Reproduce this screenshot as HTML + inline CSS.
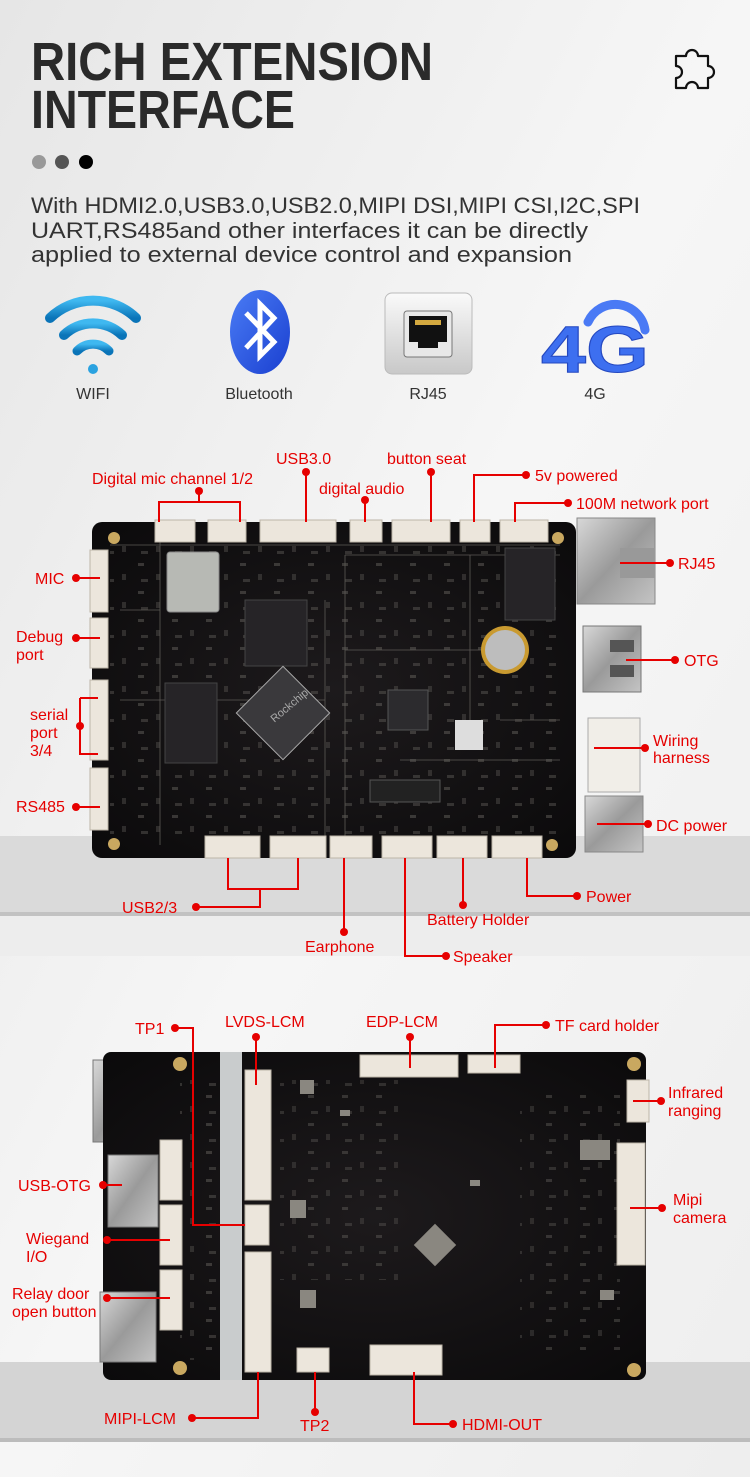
<!DOCTYPE html>
<html><head><meta charset="utf-8"><style>
html,body{margin:0;padding:0;background:#f0f0f0}
svg{display:block}
text{font-family:"Liberation Sans",sans-serif}
.r{fill:#e60000;font-size:16px}
.l{stroke:#e60000;stroke-width:2;fill:none}
.d{fill:#e60000}
.c{fill:#ece6dc;stroke:#bdb5a8;stroke-width:1}
</style></head><body>
<svg width="750" height="1477" viewBox="0 0 750 1477" xmlns="http://www.w3.org/2000/svg">
<defs>
<linearGradient id="bg" x1="0" y1="0" x2="1" y2="1"><stop offset="0" stop-color="#e6e6e6"/><stop offset=".5" stop-color="#f6f6f6"/><stop offset="1" stop-color="#eeeeee"/></linearGradient>
<linearGradient id="wifi" x1="0" y1="0" x2="0" y2="1"><stop offset="0" stop-color="#3fb8f0"/><stop offset="1" stop-color="#0a74b8"/></linearGradient>
<linearGradient id="bt" x1="0" y1="0" x2="1" y2="1"><stop offset="0" stop-color="#4a7cf5"/><stop offset="1" stop-color="#1a3fd0"/></linearGradient>
<linearGradient id="rj" x1="0" y1="0" x2="0" y2="1"><stop offset="0" stop-color="#fafafa"/><stop offset="1" stop-color="#c8c8c8"/></linearGradient>
<linearGradient id="met" x1="0" y1="0" x2="1" y2="1"><stop offset="0" stop-color="#d8d8d8"/><stop offset=".5" stop-color="#9a9a9a"/><stop offset="1" stop-color="#c4c4c4"/></linearGradient>
<radialGradient id="pcb" cx=".5" cy=".5" r=".7"><stop offset="0" stop-color="#1d1a1c"/><stop offset="1" stop-color="#0b0a0b"/></radialGradient>
<pattern id="comp" width="34" height="28" patternUnits="userSpaceOnUse">
<rect x="2" y="3" width="6" height="3" fill="#77746e"/><rect x="20" y="14" width="4" height="6" fill="#5f5c58"/><rect x="5" y="19" width="7" height="3" fill="#6a6762"/>
</pattern>
</defs>
<rect width="750" height="1477" fill="url(#bg)"/>
<rect x="0" y="836" width="750" height="76" fill="#dadada"/>
<rect x="0" y="912" width="750" height="4" fill="#c2c2c2"/>
<rect x="0" y="916" width="750" height="40" fill="#ededed"/>
<rect x="0" y="1362" width="750" height="76" fill="#d4d4d4"/>
<rect x="0" y="1438" width="750" height="4" fill="#bcbcbc"/>

<text x="31" y="80" font-size="54" font-weight="bold" fill="#2a2a2a" textLength="402" lengthAdjust="spacingAndGlyphs">RICH EXTENSION</text>
<text x="31" y="128" font-size="54" font-weight="bold" fill="#2a2a2a" textLength="264" lengthAdjust="spacingAndGlyphs">INTERFACE</text>
<circle cx="39" cy="162" r="7" fill="#999"/><circle cx="62" cy="162" r="7" fill="#555"/><circle cx="86" cy="162" r="7" fill="#000"/>
<text x="31" y="213" font-size="22" fill="#333" textLength="609" lengthAdjust="spacingAndGlyphs">With HDMI2.0,USB3.0,USB2.0,MIPI DSI,MIPI CSI,I2C,SPI</text>
<text x="31" y="238" font-size="22" fill="#333" textLength="557" lengthAdjust="spacingAndGlyphs">UART,RS485and other interfaces it can be directly</text>
<text x="31" y="262" font-size="22" fill="#333" textLength="541" lengthAdjust="spacingAndGlyphs">applied to external device control and expansion</text>
<path d="M676 56 h10 a6 6 0 1 1 12 0 h10 v10 a6 6 0 1 1 0 12 v10 h-10 a6 6 0 1 0 -12 0 h-10 v-10 a6 6 0 1 0 0 -12 z" fill="none" stroke="#111" stroke-width="2.2" stroke-linejoin="round"/>

<g fill="none" stroke="url(#wifi)" stroke-linecap="round">
<path d="M50 318 A62 62 0 0 1 136 318" stroke-width="10"/>
<path d="M64 335 A42 42 0 0 1 122 335" stroke-width="10"/>
<path d="M77 351 A22 22 0 0 1 109 351" stroke-width="9"/>
</g>
<circle cx="93" cy="369" r="5" fill="#2aa2e0"/>
<text x="93" y="399" font-size="16" fill="#333" text-anchor="middle">WIFI</text>
<ellipse cx="260" cy="332" rx="30" ry="42" fill="url(#bt)"/>
<path d="M246 313 L274 342 L260 356 L260 304 L274 318 L246 348" fill="none" stroke="#fff" stroke-width="5"/>
<text x="259" y="399" font-size="16" fill="#333" text-anchor="middle">Bluetooth</text>
<rect x="385" y="293" width="87" height="81" rx="7" fill="url(#rj)" stroke="#bbb"/>
<rect x="404" y="311" width="48" height="46" rx="3" fill="#e8e8e8" stroke="#777"/>
<path d="M409 316 h38 v26 h-9 v6 h-20 v-6 h-9 z" fill="#111"/>
<rect x="415" y="320" width="26" height="5" fill="#d4a940"/>
<text x="428" y="399" font-size="16" fill="#333" text-anchor="middle">RJ45</text>
<text x="541" y="372" font-size="66" font-weight="bold" fill="#3d6ff0" stroke="#2448c0" stroke-width="1" textLength="108" lengthAdjust="spacingAndGlyphs">4G</text>
<path d="M588 322 A30 30 0 0 1 645 330" fill="none" stroke="#4a7af5" stroke-width="9" stroke-linecap="round"/>
<text x="595" y="399" font-size="16" fill="#333" text-anchor="middle">4G</text>

<!-- TOP BOARD -->
<rect x="577" y="518" width="78" height="86" fill="url(#met)" stroke="#888"/>
<rect x="620" y="548" width="35" height="30" fill="#999"/>
<rect x="583" y="626" width="58" height="66" fill="url(#met)" stroke="#777"/>
<rect x="610" y="640" width="24" height="12" fill="#555"/><rect x="610" y="665" width="24" height="12" fill="#555"/>
<rect x="588" y="718" width="52" height="74" fill="#f1eee8" stroke="#aaa"/>
<rect x="585" y="796" width="58" height="56" fill="url(#met)" stroke="#888"/>
<rect x="92" y="522" width="484" height="336" rx="10" fill="url(#pcb)"/>
<rect x="110" y="545" width="450" height="290" fill="url(#comp)" opacity=".4"/>
<g stroke="#5c5a55" stroke-width="0.8" fill="none">
<path d="M110 545 H560 M160 540 V845 M325 600 V840 M345 555 H560 M345 555 V840 M120 700 H325 M345 650 H500 M470 555 V720 M500 720 H560 M120 610 H160 M400 760 H560"/>
</g>
<g class="c">
<rect x="155" y="520" width="40" height="22"/><rect x="208" y="520" width="38" height="22"/>
<rect x="260" y="520" width="76" height="22"/><rect x="350" y="520" width="32" height="22"/>
<rect x="392" y="520" width="58" height="22"/><rect x="460" y="520" width="30" height="22"/>
<rect x="500" y="520" width="48" height="22"/>
<rect x="205" y="836" width="55" height="22"/><rect x="270" y="836" width="56" height="22"/>
<rect x="330" y="836" width="42" height="22"/><rect x="382" y="836" width="50" height="22"/>
<rect x="437" y="836" width="50" height="22"/><rect x="492" y="836" width="50" height="22"/>
<rect x="90" y="550" width="18" height="62"/><rect x="90" y="618" width="18" height="50"/>
<rect x="90" y="680" width="18" height="80"/><rect x="90" y="768" width="18" height="62"/>
</g>
<circle cx="114" cy="538" r="6" fill="#c9a860"/><circle cx="114" cy="844" r="6" fill="#c9a860"/><circle cx="558" cy="538" r="6" fill="#c9a860"/><circle cx="552" cy="845" r="6" fill="#c9a860"/>
<rect x="167" y="552" width="52" height="60" rx="3" fill="#b7b9b4" stroke="#888"/>
<rect x="245" y="600" width="62" height="66" fill="#262427" stroke="#444"/>
<rect x="165" y="683" width="52" height="80" fill="#262427" stroke="#444"/>
<rect x="250" y="680" width="66" height="66" fill="#3a393c" stroke="#aaa" transform="rotate(45 283 713)"/>
<text x="270" y="715" font-size="11" fill="#aaa" transform="rotate(-40 283 713)">Rockchip</text>
<rect x="505" y="548" width="50" height="72" fill="#262427" stroke="#444"/>
<circle cx="505" cy="650" r="24" fill="#c99a30"/><circle cx="505" cy="650" r="20" fill="#bdbdbd"/>
<rect x="388" y="690" width="40" height="40" fill="#2c2b2e" stroke="#555"/>
<rect x="455" y="720" width="28" height="30" fill="#ddd"/>
<rect x="370" y="780" width="70" height="22" fill="#222" stroke="#555"/>

<g class="l">
<path d="M199 491 V502 M159 522 V502 H240 V522"/>
<path d="M306 472 V522"/><path d="M365 500 V522"/><path d="M431 472 V522"/>
<path d="M526 475 H474 V522"/><path d="M568 503 H515 V522"/>
<path d="M670 563 H620"/><path d="M675 660 H626"/><path d="M645 748 H594"/><path d="M648 824 H597"/>
<path d="M76 578 H100"/><path d="M76 638 H100"/><path d="M80 698 H98 M80 698 V754 H98"/><path d="M76 807 H100"/>
<path d="M196 907 H260 V889 M228 858 V889 H298 V858"/>
<path d="M344 932 V858"/><path d="M446 956 H405 V858"/><path d="M463 905 V858"/><path d="M577 896 H527 V858"/>
</g>
<g class="d">
<circle cx="199" cy="491" r="4"/><circle cx="306" cy="472" r="4"/><circle cx="365" cy="500" r="4"/><circle cx="431" cy="472" r="4"/>
<circle cx="526" cy="475" r="4"/><circle cx="568" cy="503" r="4"/><circle cx="670" cy="563" r="4"/><circle cx="675" cy="660" r="4"/>
<circle cx="645" cy="748" r="4"/><circle cx="648" cy="824" r="4"/><circle cx="76" cy="578" r="4"/><circle cx="76" cy="638" r="4"/>
<circle cx="80" cy="726" r="4"/><circle cx="76" cy="807" r="4"/><circle cx="196" cy="907" r="4"/><circle cx="344" cy="932" r="4"/>
<circle cx="446" cy="956" r="4"/><circle cx="463" cy="905" r="4"/><circle cx="577" cy="896" r="4"/>
</g>
<g class="r">
<text x="92" y="484">Digital mic channel 1/2</text>
<text x="276" y="464">USB3.0</text>
<text x="319" y="494">digital audio</text>
<text x="387" y="464">button seat</text>
<text x="535" y="481">5v powered</text>
<text x="576" y="509">100M network port</text>
<text x="678" y="569">RJ45</text>
<text x="684" y="666">OTG</text>
<text x="653" y="746">Wiring</text><text x="653" y="763">harness</text>
<text x="656" y="831">DC power</text>
<text x="35" y="584">MIC</text>
<text x="16" y="642">Debug</text><text x="16" y="660">port</text>
<text x="30" y="720">serial</text><text x="30" y="738">port</text><text x="30" y="756">3/4</text>
<text x="16" y="812">RS485</text>
<text x="122" y="913">USB2/3</text>
<text x="305" y="952">Earphone</text>
<text x="453" y="962">Speaker</text>
<text x="427" y="925">Battery Holder</text>
<text x="586" y="902">Power</text>
</g>

<!-- BOTTOM BOARD -->
<rect x="93" y="1060" width="58" height="82" fill="url(#met)" stroke="#777"/>
<rect x="103" y="1052" width="543" height="328" rx="8" fill="url(#pcb)"/>
<rect x="280" y="1080" width="120" height="200" fill="url(#comp)" opacity=".35"/>
<rect x="520" y="1090" width="100" height="260" fill="url(#comp)" opacity=".35"/>
<rect x="180" y="1080" width="40" height="280" fill="url(#comp)" opacity=".4"/>
<rect x="220" y="1052" width="22" height="328" fill="#c9cccd"/>
<rect x="108" y="1155" width="50" height="72" fill="url(#met)" stroke="#777"/>
<rect x="100" y="1292" width="56" height="70" fill="url(#met)" stroke="#777"/>
<g class="c">
<rect x="160" y="1140" width="22" height="60"/><rect x="160" y="1205" width="22" height="60"/><rect x="160" y="1270" width="22" height="60"/>
<rect x="245" y="1070" width="26" height="130"/><rect x="245" y="1205" width="24" height="40"/><rect x="245" y="1252" width="26" height="120"/>
<rect x="360" y="1055" width="98" height="22"/><rect x="468" y="1055" width="52" height="18"/>
<rect x="627" y="1080" width="22" height="42"/><rect x="617" y="1143" width="28" height="122"/>
<rect x="370" y="1345" width="72" height="30"/><rect x="297" y="1348" width="32" height="24"/>
</g>
<circle cx="180" cy="1064" r="7" fill="#c9a860"/><circle cx="634" cy="1064" r="7" fill="#c9a860"/>
<circle cx="180" cy="1368" r="7" fill="#c9a860"/><circle cx="634" cy="1370" r="7" fill="#c9a860"/>
<g fill="#8a8780">
<rect x="300" y="1080" width="14" height="14"/><rect x="340" y="1110" width="10" height="6"/><rect x="290" y="1200" width="16" height="18"/>
<rect x="420" y="1230" width="30" height="30" transform="rotate(45 435 1245)"/>
<rect x="580" y="1140" width="30" height="20"/><rect x="300" y="1290" width="16" height="18"/>
<rect x="470" y="1180" width="10" height="6"/><rect x="600" y="1290" width="14" height="10"/>
</g>

<g class="l">
<path d="M175 1028 H193 V1225 H245"/><path d="M256 1037 V1085"/><path d="M410 1037 V1068"/><path d="M546 1025 H495 V1068"/>
<path d="M661 1101 H633"/><path d="M662 1208 H630"/><path d="M103 1185 H122"/><path d="M107 1240 H170"/><path d="M107 1298 H170"/>
<path d="M192 1418 H258 V1372"/><path d="M315 1412 V1372"/><path d="M453 1424 H414 V1372"/>
</g>
<g class="d">
<circle cx="175" cy="1028" r="4"/><circle cx="256" cy="1037" r="4"/><circle cx="410" cy="1037" r="4"/><circle cx="546" cy="1025" r="4"/>
<circle cx="661" cy="1101" r="4"/><circle cx="662" cy="1208" r="4"/><circle cx="103" cy="1185" r="4"/><circle cx="107" cy="1240" r="4"/>
<circle cx="107" cy="1298" r="4"/><circle cx="192" cy="1418" r="4"/><circle cx="315" cy="1412" r="4"/><circle cx="453" cy="1424" r="4"/>
</g>
<g class="r">
<text x="135" y="1034">TP1</text>
<text x="225" y="1027">LVDS-LCM</text>
<text x="366" y="1027">EDP-LCM</text>
<text x="555" y="1031">TF card holder</text>
<text x="668" y="1098">Infrared</text><text x="668" y="1116">ranging</text>
<text x="673" y="1205">Mipi</text><text x="673" y="1223">camera</text>
<text x="18" y="1191">USB-OTG</text>
<text x="26" y="1244">Wiegand</text><text x="26" y="1262">I/O</text>
<text x="12" y="1299">Relay door</text><text x="12" y="1317">open button</text>
<text x="104" y="1424">MIPI-LCM</text>
<text x="300" y="1431">TP2</text>
<text x="462" y="1430">HDMI-OUT</text>
</g>
</svg>
</body></html>
